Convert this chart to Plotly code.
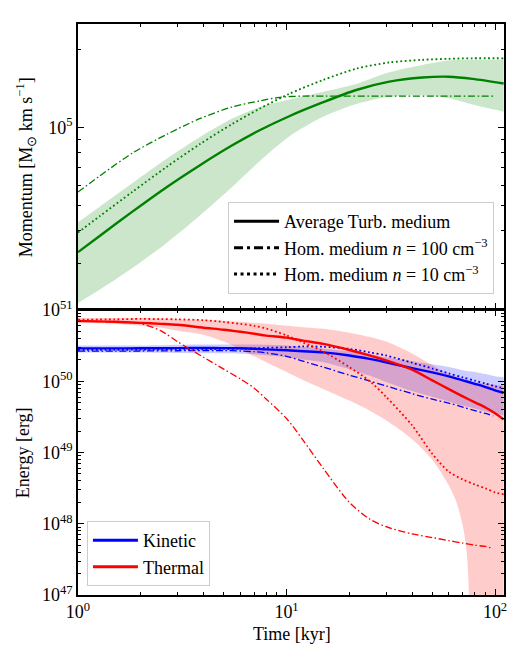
import plotly.graph_objects as go

# ---------------- Momentum panel (top) ----------------
t_mom = [1, 1.27, 1.83, 2.67, 3.83, 5.52, 7.43, 10.3, 14.9, 21.6, 31.1, 44.8, 60, 78, 110]
p_turb_avg = [3.31e4, 3.82e4, 4.75e4, 5.9e4, 7.14e4, 8.55e4, 9.75e4, 1.104e5, 1.247e5, 1.393e5,
              1.5e5, 1.556e5, 1.567e5, 1.538e5, 1.476e5]
p_turb_hi = [4.31e4, 4.95e4, 6.12e4, 7.59e4, 9.16e4, 1.084e5, 1.197e5, 1.28e5, 1.37e5, 1.47e5,
             1.63e5, 1.74e5, 1.81e5, 1.82e5, 1.82e5]
p_turb_lo = [2.11e4, 2.37e4, 2.88e4, 3.6e4, 4.57e4, 5.92e4, 7.41e4, 9.23e4, 1.096e5, 1.23e5,
             1.312e5, 1.33e5, 1.294e5, 1.225e5, 1.15e5]
p_hom10 = [3.94e4, 4.55e4, 5.66e4, 7.06e4, 8.61e4, 1.033e5, 1.18e5, 1.346e5, 1.52e5, 1.683e5,
           1.778e5, 1.82e5, 1.837e5, 1.845e5, 1.845e5]
t_mom100 = [1, 1.27, 1.83, 2.67, 3.83, 5.52, 7.43, 9.3, 12, 15.5, 30, 60, 98]
p_hom100 = [5.64e4, 6.5e4, 7.98e4, 9.41e4, 1.08e5, 1.20e5, 1.265e5, 1.305e5, 1.32e5, 1.32e5,
            1.32e5, 1.32e5, 1.32e5]

# ---------------- Energy panel (bottom) ----------------
t_e = [1, 1.5, 2, 2.5, 3, 4, 5, 6, 7, 8, 10, 12, 15, 20, 25, 30, 40, 50, 60, 70, 80, 90, 100, 110]
ekin_avg = [2.89e50, 2.89e50, 2.9e50, 2.9e50, 2.92e50, 2.93e50, 2.92e50, 2.9e50, 2.86e50, 2.8e50,
            2.72e50, 2.64e50, 2.54e50, 2.3e50, 2.06e50, 1.85e50, 1.53e50, 1.33e50, 1.17e50,
            1.03e50, 9.2e49, 8.3e49, 7.46e49, 6.9e49]
ekin_hi = [3.18e50, 3.18e50, 3.18e50, 3.2e50, 3.25e50, 3.28e50, 3.28e50, 3.28e50, 3.28e50, 3.25e50,
           3.18e50, 3.05e50, 2.89e50, 2.62e50, 2.4e50, 2.17e50, 1.91e50, 1.73e50, 1.58e50,
           1.43e50, 1.35e50, 1.26e50, 1.18e50, 1.15e50]
ekin_lo = [2.54e50, 2.54e50, 2.54e50, 2.52e50, 2.5e50, 2.48e50, 2.47e50, 2.44e50, 2.39e50, 2.32e50,
           2.17e50, 2.02e50, 1.85e50, 1.48e50, 1.2e50, 9.8e49, 7.3e49, 6.07e49, 5.2e49,
           4.55e49, 4.14e49, 3.76e49, 3.53e49, 3.3e49]
ekin_hom10 = [2.75e50, 2.76e50, 2.78e50, 2.79e50, 2.8e50, 2.82e50, 2.85e50, 2.87e50, 2.9e50, 2.95e50,
              3.0e50, 3.08e50, 3.05e50, 2.85e50, 2.55e50, 2.3e50, 1.82e50, 1.51e50, 1.29e50,
              1.13e50, 1.02e50, 9.3e49, 8.5e49, 8.0e49]
eth_avg = [7.05e50, 6.85e50, 6.6e50, 6.4e50, 6.2e50, 5.64e50, 5.29e50, 4.95e50, 4.65e50, 4.37e50,
           4.1e50, 3.72e50, 3.34e50, 2.75e50, 2.31e50, 1.97e50, 1.46e50, 1.03e50, 7.75e49,
           6.14e49, 5.05e49, 4.28e49, 3.55e49, 2.9e49]
eth_hi = [7.7e50, 7.7e50, 7.7e50, 7.6e50, 7.5e50, 7.3e50, 7.05e50, 6.85e50, 6.6e50, 6.4e50,
          6.0e50, 5.75e50, 5.46e50, 4.81e50, 4.2e50, 3.6e50, 2.46e50, 1.68e50, 1.26e50,
          1.08e50, 9.8e49, 9.2e49, 8.9e49, 8.6e49]
eth_hom10 = [7.3e50, 7.4e50, 7.5e50, 7.45e50, 7.4e50, 7.2e50, 6.8e50, 6.4e50, 6.0e50, 5.5e50,
             4.4e50, 3.5e50, 2.62e50, 1.58e50, 1.01e50, 6.07e49, 2.41e49, 9.6e48, 5.4e48,
             4.18e48, 3.56e48, 3.14e48, 2.76e48, 2.59e48]
t_eth_lo = [1, 1.5, 2, 2.5, 3, 4, 5, 6, 7, 8, 10, 12, 15, 20, 25, 30, 40, 50, 60, 65, 70, 73, 75,
            76, 80, 90, 100, 110]
eth_lo = [6.6e50, 6.4e50, 6.0e50, 5.64e50, 5.13e50, 4.51e50, 3.6e50, 2.8e50, 2.24e50, 1.85e50,
          1.35e50, 1.04e50, 7.8e49, 5.35e49, 3.88e49, 2.83e49, 1.54e49, 7.9e48, 3.45e48,
          2.08e48, 9.4e47, 4.2e47, 1e47, 1e44, 1e44, 1e44, 1e44, 1e44]
t_e100 = [1, 1.5, 2, 2.5, 3, 4, 5, 6, 7, 8, 10, 12, 15, 20, 25, 30, 40, 50, 60, 70, 80, 90, 98]
ekin_hom100 = [2.65e50, 2.65e50, 2.66e50, 2.67e50, 2.68e50, 2.7e50, 2.7e50, 2.66e50, 2.6e50, 2.5e50,
               2.24e50, 1.91e50, 1.58e50, 1.22e50, 1.01e50, 8.6e49, 6.7e49, 5.6e49, 4.93e49,
               4.34e49, 3.88e49, 3.53e49, 3.26e49]
eth_hom100 = [7.05e50, 6.75e50, 6.4e50, 5.1e50, 3.6e50, 2.17e50, 1.48e50, 1.08e50, 8.0e49, 5.6e49,
              3.0e49, 1.49e49, 6.0e48, 2.0e48, 1.17e48, 9.1e47, 7.2e47, 6.4e47, 5.8e47, 5.35e47,
              5.0e47, 4.8e47, 4.5e47]

# tick labels
x_tickvals = [1, 10, 100]
x_ticktext = ["10<sup>0</sup>", "10<sup>1</sup>", "10<sup>2</sup>"]
ytop_tickvals = [1e5]
ytop_ticktext = ["10<sup>5</sup>"]
ybot_tickvals = [1e47, 1e48, 1e49, 1e50, 1e51]
ybot_ticktext = ["10<sup>47</sup>", "10<sup>48</sup>", "10<sup>49</sup>", "10<sup>50</sup>", "10<sup>51</sup>"]

FONT = "Times New Roman, Liberation Serif, serif"
GREEN = "#008000"
BLUE = "#0000ff"
RED = "#ff0000"
DASHDOT = "7px,2.6px,1.6px,2.6px"
DOT = "1.8px,2.6px"

fig = go.Figure()


def band(tl, lo, th, hi, fillcolor, xa, ya):
    fig.add_trace(go.Scatter(x=tl, y=lo, mode="lines", line=dict(width=0, shape="spline", smoothing=0.8),
                             showlegend=False, hoverinfo="skip", xaxis=xa, yaxis=ya))
    fig.add_trace(go.Scatter(x=th, y=hi, mode="lines", line=dict(width=0, shape="spline", smoothing=0.8),
                             fill="tonexty", fillcolor=fillcolor, showlegend=False, hoverinfo="skip",
                             xaxis=xa, yaxis=ya))


def line(t, v, color, width, dash, xa, ya):
    fig.add_trace(go.Scatter(x=t, y=v, mode="lines",
                             line=dict(color=color, width=width, dash=dash, shape="spline", smoothing=0.8),
                             showlegend=False, xaxis=xa, yaxis=ya))


# top panel
band(t_mom, p_turb_lo, t_mom, p_turb_hi, "rgba(0,128,0,0.2)", "x", "y")
line(t_mom, p_turb_avg, GREEN, 2.4, "solid", "x", "y")
line(t_mom100, p_hom100, GREEN, 1.3, DASHDOT, "x", "y")
line(t_mom, p_hom10, GREEN, 1.8, DOT, "x", "y")

# bottom panel
band(t_e, ekin_lo, t_e, ekin_hi, "rgba(0,0,255,0.2)", "x2", "y2")
band(t_eth_lo, eth_lo, t_e, eth_hi, "rgba(255,0,0,0.2)", "x2", "y2")
line(t_e, ekin_avg, BLUE, 2.4, "solid", "x2", "y2")
line(t_e100, ekin_hom100, BLUE, 1.3, DASHDOT, "x2", "y2")
line(t_e, ekin_hom10, BLUE, 1.8, DOT, "x2", "y2")
line(t_e, eth_avg, RED, 2.4, "solid", "x2", "y2")
line(t_e100, eth_hom100, RED, 1.3, DASHDOT, "x2", "y2")
line(t_e, eth_hom10, RED, 1.8, DOT, "x2", "y2")

# legend entries
for name, dash in [("Average Turb. medium", "solid"),
                   ("Hom. medium <i>n</i> = 100 cm<sup>−3</sup>", "9px,4px,3px,4px"),
                   ("Hom. medium <i>n</i> = 10 cm<sup>−3</sup>", "3px,3.5px")]:
    fig.add_trace(go.Scatter(x=[None], y=[None], mode="lines", name=name,
                             line=dict(color="black", width=3, dash=dash),
                             legend="legend", xaxis="x", yaxis="y"))
for name, c in [("Kinetic", BLUE), ("Thermal", RED)]:
    fig.add_trace(go.Scatter(x=[None], y=[None], mode="lines", name=name,
                             line=dict(color=c, width=3), legend="legend2", xaxis="x2", yaxis="y2"))


def minor_vals(d0, d1):
    return [float(k) * 10.0 ** d for d in range(d0, d1) for k in range(2, 10)]


axis_common = dict(type="log", showline=True, linecolor="black", linewidth=1.5, mirror="allticks",
                   ticks="inside", ticklen=6, tickwidth=1.3, tickcolor="black", showgrid=False,
                   zeroline=False, tickmode="array",
                   tickfont=dict(family=FONT, size=18, color="black"))

fig.update_layout(
    width=519, height=669,
    margin=dict(l=78, r=13, t=16, b=74),
    paper_bgcolor="white", plot_bgcolor="white",
    font=dict(family=FONT, size=18, color="black"),
    xaxis=dict(axis_common, domain=[0, 1], anchor="y", range=[0, 2.043],
               tickvals=x_tickvals, ticktext=x_ticktext, showticklabels=False,
               minor=dict(ticks="inside", ticklen=3.5, tickwidth=1, tickcolor="black",
                          tickvals=minor_vals(0, 2), showgrid=False)),
    yaxis=dict(axis_common, domain=[0.5009, 1], anchor="x", range=[4.301, 5.398],
               tickvals=ytop_tickvals, ticktext=ytop_ticktext,
               minor=dict(ticks="inside", ticklen=3.5, tickwidth=1, tickcolor="black",
                          tickvals=minor_vals(4, 6), showgrid=False)),
    xaxis2=dict(axis_common, domain=[0, 1], anchor="y2", range=[0, 2.043], matches="x",
                tickvals=x_tickvals, ticktext=x_ticktext,
                minor=dict(ticks="inside", ticklen=3.5, tickwidth=1, tickcolor="black",
                           tickvals=minor_vals(0, 2), showgrid=False)),
    yaxis2=dict(axis_common, domain=[0, 0.4991], anchor="x2", range=[47, 51],
                tickvals=ybot_tickvals, ticktext=ybot_ticktext,
                minor=dict(ticks="inside", ticklen=3.5, tickwidth=1, tickcolor="black",
                           tickvals=minor_vals(47, 51), showgrid=False)),
    legend=dict(x=0.9766, xanchor="right", y=0.527, yanchor="bottom", traceorder="normal",
                itemwidth=45,
                bgcolor="rgba(255,255,255,0.8)", bordercolor="#cccccc", borderwidth=1,
                font=dict(family=FONT, size=18, color="black")),
    legend2=dict(x=0.021, xanchor="left", y=0.0155, yanchor="bottom", traceorder="normal",
                 itemwidth=45,
                 bgcolor="rgba(255,255,255,0.8)", bordercolor="#cccccc", borderwidth=1,
                 font=dict(family=FONT, size=18, color="black")),
    annotations=[
        dict(text="Momentum [M<sub>⊙</sub> km s<sup>−1</sup>]", xref="paper", yref="paper",
             x=-0.1215, y=0.7496, textangle=-90, showarrow=False, xanchor="center", yanchor="middle",
             font=dict(family=FONT, size=18, color="black")),
        dict(text="Energy [erg]", xref="paper", yref="paper",
             x=-0.1285, y=0.2487, textangle=-90, showarrow=False, xanchor="center", yanchor="middle",
             font=dict(family=FONT, size=18, color="black")),
        dict(text="Time [kyr]", xref="paper", yref="paper",
             x=0.502, y=-0.069, showarrow=False, xanchor="center", yanchor="middle",
             font=dict(family=FONT, size=18, color="black")),
    ],
)

fig.write_html("out.html")
